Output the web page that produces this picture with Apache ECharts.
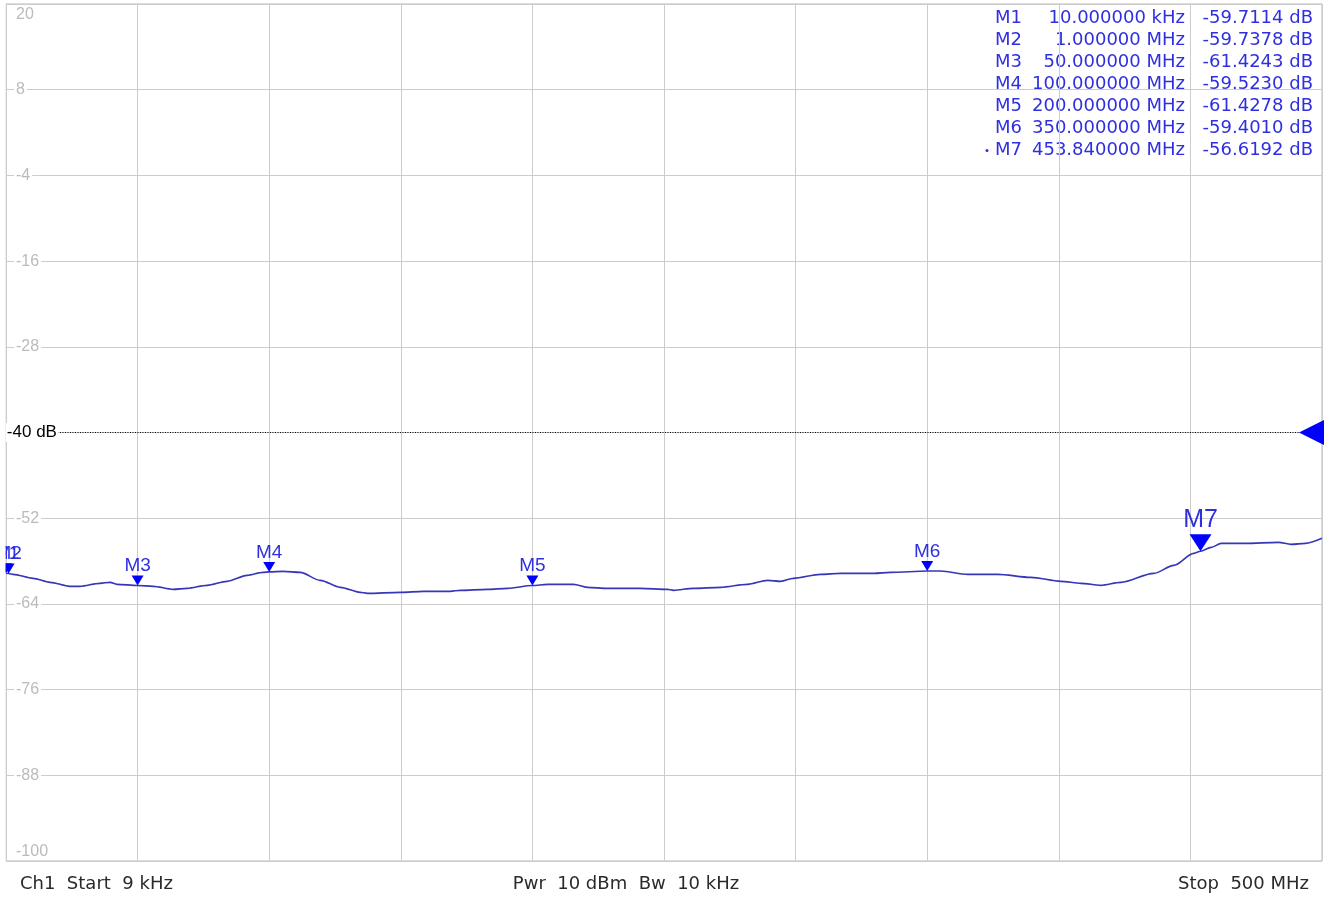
<!DOCTYPE html>
<html>
<head>
<meta charset="utf-8">
<title>Ch1 trace</title>
<script src="https://cdn.jsdelivr.net/npm/echarts@6/dist/echarts.min.js"></script>
<style>
html, body { margin: 0; padding: 0; background: #fff; }
#chart { width: 1327px; height: 899px; }
</style>
</head>
<body>
<div id="chart"></div>
<script>
// trace (MHz / dB)
var freqMHz = [0.009, 1, 2.7, 10.3, 16.7, 24.3, 28.1, 35.7, 39.5, 42.2, 50, 55.9, 63.5, 68.8, 76.4, 84, 91.6, 97.7, 100,
    105.3, 111.8, 119.4, 127, 134.6, 137.3, 149.8, 158.6, 168.8, 172.6, 182.9, 190.5, 200, 205.7, 215.6, 220.9, 228.5,
    241.1, 251.4, 253.6, 261.2, 271.5, 281.7, 289.4, 294.3, 299.2, 309.5, 317.1, 329.7, 336.1, 350, 355.1, 365.4, 376.8,
    389.4, 400.8, 408.4, 416, 423.6, 436.1, 443.7, 451.3, 453.84, 457.9, 461.7, 470.8, 483.4, 488.3, 493.7, 500];
var traceDb = [-59.71, -59.74, -59.86, -60.42, -60.98, -61.54, -61.54, -61.12, -60.98, -61.26, -61.42, -61.54, -61.96,
    -61.82, -61.40, -60.84, -60.00, -59.58, -59.52, -59.44, -59.58, -60.70, -61.68, -62.38, -62.52, -62.38, -62.24, -62.24,
    -62.10, -61.96, -61.82, -61.43, -61.26, -61.26, -61.68, -61.82, -61.82, -61.96, -62.10, -61.82, -61.68, -61.26, -60.70,
    -60.84, -60.42, -59.86, -59.72, -59.72, -59.58, -59.40, -59.40, -59.86, -59.86, -60.28, -60.84, -61.12, -61.40, -60.98,
    -59.72, -58.60, -56.92, -56.62, -56.08, -55.52, -55.52, -55.38, -55.66, -55.52, -54.82];

// markers
var markerNames = ['M1', 'M2', 'M3', 'M4', 'M5', 'M6', 'M7'];
var markerFreq = [0.01, 1, 50, 100, 200, 350, 453.84];
var markerFreqText = ['10.000000 kHz', '1.000000 MHz', '50.000000 MHz', '100.000000 MHz', '200.000000 MHz', '350.000000 MHz', '453.840000 MHz'];
var markerDb = [-59.7114, -59.7378, -61.4243, -59.5230, -61.4278, -59.4010, -56.6192];
var activeMarker = 6;

var refLevel = -40;
var yBottom = -100;   // y axis is drawn as (dB - yBottom), ticks every 12 dB
var yTop = 20;
var yStep = 12;
var footerText = ['Ch1  Start  9 kHz', 'Pwr  10 dBm  Bw  10 kHz', 'Stop  500 MHz'];

var gridColor = '#cccccc';
var blue = '#0000ff';
var textBlue = '#2f2fe0';

var chart = echarts.init(document.getElementById('chart'));

var line = [];
for (var i = 0; i < freqMHz.length; i++) {
    line.push([freqMHz[i], traceDb[i] - yBottom]);
}

var markData = [];
for (var m = 0; m < markerNames.length; m++) {
    var big = m === activeMarker;
    markData.push({
        name: markerNames[m],
        coord: [markerFreq[m], markerDb[m] - yBottom],
        symbol: 'path://M0,0 L10,0 L5,10 Z',
        symbolSize: big ? [22, 17] : [12, 10],
        symbolOffset: [0, big ? -8.5 : -5],
        itemStyle: { color: blue },
        label: {
            show: true,
            position: 'top',
            formatter: markerNames[m],
            color: textBlue,
            fontFamily: 'Liberation Sans',
            fontSize: big ? 25 : 19,
            distance: big ? 2 : 0
        }
    });
}
// reference level arrow at right edge
markData.push({
    name: 'ref',
    coord: [496, refLevel - yBottom],
    symbol: 'path://M0,5 L10,0 L10,10 Z',
    symbolSize: [25, 25],
    itemStyle: { color: blue },
    label: { show: false }
});

// marker table, top right
var graphics = [];
for (var r = 0; r < markerNames.length; r++) {
    var ty = 18.5 + r * 22;
    var font = { fontFamily: 'DejaVu Sans', fontSize: 18, fill: textBlue, textVerticalAlign: 'middle' };
    graphics.push({ type: 'text', x: 995, y: ty, style: Object.assign({ text: markerNames[r], textAlign: 'left' }, font) });
    graphics.push({ type: 'text', x: 1185, y: ty, style: Object.assign({ text: markerFreqText[r], textAlign: 'right' }, font) });
    graphics.push({ type: 'text', x: 1313, y: ty, style: Object.assign({ text: markerDb[r].toFixed(4) + ' dB', textAlign: 'right' }, font) });
    if (r === activeMarker) {
        graphics.push({ type: 'circle', shape: { cx: 987, cy: ty, r: 1.5 }, style: { fill: textBlue } });
    }
}
// footer
var footFont = { fontFamily: 'DejaVu Sans', fontSize: 18, fill: '#2a2a2a', textVerticalAlign: 'middle' };
graphics.push({ type: 'text', x: 20, y: 884, style: Object.assign({ text: footerText[0], textAlign: 'left' }, footFont) });
graphics.push({ type: 'text', x: 626, y: 884, style: Object.assign({ text: footerText[1], textAlign: 'center' }, footFont) });
graphics.push({ type: 'text', x: 1309, y: 884, style: Object.assign({ text: footerText[2], textAlign: 'right' }, footFont) });
// left margin cover (markers at start are cut by the frame)
graphics.push({ type: 'rect', z: 100, shape: { x: 0, y: 0, width: 5.5, height: 870 }, style: { fill: '#fff' } });

var yLabel = { fontFamily: 'Liberation Sans', fontSize: 16, color: '#bbbbbb' };
var yRange = { type: 'value', position: 'left', min: 0, max: yTop - yBottom, interval: yStep };

var option = {
    animation: false,
    backgroundColor: '#fff',
    grid: { left: 6, top: 4, right: 5, bottom: 38, show: true, borderColor: '#b8b8b8', borderWidth: 1 },
    xAxis: {
        type: 'value', min: 0, max: 500, interval: 50,
        axisLine: { show: false }, axisTick: { show: false }, axisLabel: { show: false },
        splitLine: { lineStyle: { color: gridColor, width: 1 } }
    },
    yAxis: [
        Object.assign({}, yRange, {
            axisLine: { show: false }, axisTick: { show: false },
            splitLine: { lineStyle: { color: gridColor, width: 1 } },
            axisLabel: Object.assign({
                inside: true, margin: 8, padding: [0, 2], backgroundColor: '#fff',
                showMinLabel: false, showMaxLabel: false,
                formatter: function (v) {
                    var db = v + yBottom;
                    if (db === refLevel || db === yTop || db === yBottom) return '';
                    return String(db);
                }
            }, yLabel)
        }),
        // top label sits under the frame
        Object.assign({}, yRange, {
            offset: 0,
            axisLine: { show: false }, axisTick: { show: false }, splitLine: { show: false },
            axisLabel: Object.assign({
                inside: true, margin: 10, verticalAlign: 'top', padding: [3, 0, 0, 0], showMaxLabel: true,
                formatter: function (v) { return v + yBottom === yTop ? String(yTop) : ''; }
            }, yLabel)
        }),
        // bottom label sits above the frame
        Object.assign({}, yRange, {
            offset: 0,
            axisLine: { show: false }, axisTick: { show: false }, splitLine: { show: false },
            axisLabel: Object.assign({
                inside: true, margin: 10, verticalAlign: 'bottom', padding: [0, 0, 1, 0], showMinLabel: true,
                formatter: function (v) { return v + yBottom === yBottom ? String(yBottom) : ''; }
            }, yLabel)
        })
    ],
    series: [{
        type: 'line',
        data: line,
        showSymbol: false,
        smooth: 0.3,
        smoothMonotone: 'x',
        lineStyle: { color: '#3636b8', width: 1.6 },
        itemStyle: { color: '#3636b8' },
        markLine: {
            silent: true,
            symbol: ['none', 'none'],
            lineStyle: { color: '#000', width: 1, type: [1, 1.5] },
            label: {
                show: true, position: 'start', distance: 2, formatter: refLevel + ' dB',
                color: '#000', fontFamily: 'Liberation Sans', fontSize: 17,
                backgroundColor: '#fff', padding: [1, 1]
            },
            data: [[{ coord: [20.5, refLevel - yBottom] }, { coord: [491.3, refLevel - yBottom] }]]
        },
        markPoint: { silent: true, data: markData }
    }],
    graphic: graphics
};
chart.setOption(option);
</script>
</body>
</html>
